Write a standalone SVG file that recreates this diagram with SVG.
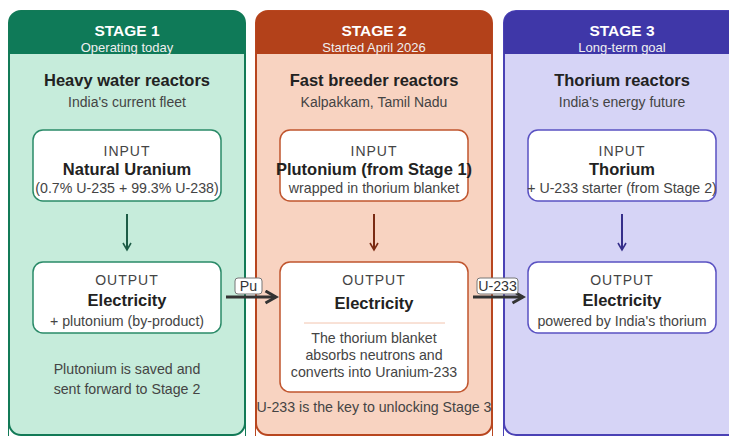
<svg xmlns="http://www.w3.org/2000/svg" width="729" height="436" viewBox="0 0 729 436">
<defs>
<marker id="chev" viewBox="0 0 10 10" refX="8" refY="5" markerWidth="10" markerHeight="10" markerUnits="userSpaceOnUse" orient="auto">
<path d="M1,1 L8,5 L1,9" fill="none" stroke="context-stroke" stroke-width="1.6"/>
</marker>
<marker id="chevB" viewBox="0 0 10 10" refX="8" refY="5" markerWidth="5" markerHeight="5" orient="auto">
<path d="M1,1 L8,5 L1,9" fill="none" stroke="#333" stroke-width="2"/>
</marker>
</defs>
<style>
text{font-family:"Liberation Sans",Arial,sans-serif;text-anchor:middle}
.hd{font-size:15.5px;font-weight:bold;fill:#fff}
.hs{font-size:13px;fill:#f0f0f0}
.tt{font-size:16.5px;font-weight:bold;fill:#222}
.st{font-size:14px;fill:#444}
.lb{font-size:14px;fill:#444;letter-spacing:1px}
.bt{font-size:16.5px;font-weight:bold;fill:#222}
.sm{font-size:14.2px;fill:#444}
.box{fill:#fff;stroke-width:1.5}
.pill{fill:#fff;stroke:#777;stroke-width:1}
</style>
<rect width="729" height="436" fill="#fff"/>

<g id="stage1">
<path d="M9,438 V23 a12,12 0 0 1 12,-12 H233 a12,12 0 0 1 12,12 V438" fill="#c6ecdb" stroke="#137a57" stroke-width="2"/>
<path d="M9,54 V23 a12,12 0 0 1 12,-12 H233 a12,12 0 0 1 12,12 V54 Z" fill="#0f7a58"/>
<path d="M9,423 V438 H245 V423 a12,12 0 0 1 -12,12 H21 a12,12 0 0 1 -12,-12Z" fill="#fff"/>
<path d="M9,420 V423 a12,12 0 0 0 12,12 H233 a12,12 0 0 0 12,-12 V420" fill="none" stroke="#137a57" stroke-width="2"/>
<text class="hd" x="127" y="36">STAGE 1</text>
<text class="hs" x="127" y="52">Operating today</text>
<text class="tt" x="127" y="86">Heavy water reactors</text>
<text class="st" x="127" y="107">India's current fleet</text>
<text class="sm" x="127" y="374">Plutonium is saved and</text>
<text class="sm" x="127" y="394">sent forward to Stage 2</text>
</g>
<g id="s1-input">
<rect class="box" x="33" y="130" width="188" height="71" rx="10" stroke="#2a8a68"/>
<text class="lb" x="127" y="156">INPUT</text>
<text class="bt" x="127" y="175">Natural Uranium</text>
<text class="sm" x="127" y="193">(0.7% U-235 + 99.3% U-238)</text>
</g>
<g id="s1-output">
<rect class="box" x="33" y="262" width="188" height="71" rx="10" stroke="#2a8a68"/>
<text class="lb" x="127" y="285">OUTPUT</text>
<text class="bt" x="127" y="306">Electricity</text>
<text class="sm" x="127" y="326">+ plutonium (by-product)</text>
</g>

<g id="stage2">
<path d="M256,438 V23 a12,12 0 0 1 12,-12 H480 a12,12 0 0 1 12,12 V438" fill="#f8d3c1" stroke="#b8461f" stroke-width="2"/>
<path d="M256,54 V23 a12,12 0 0 1 12,-12 H480 a12,12 0 0 1 12,12 V54 Z" fill="#b3411a"/>
<path d="M256,423 V438 H492 V423 a12,12 0 0 1 -12,12 H268 a12,12 0 0 1 -12,-12Z" fill="#fff"/>
<path d="M256,420 V423 a12,12 0 0 0 12,12 H480 a12,12 0 0 0 12,-12 V420" fill="none" stroke="#b8461f" stroke-width="2"/>
<text class="hd" x="374" y="36">STAGE 2</text>
<text class="hs" x="374" y="52">Started April 2026</text>
<text class="tt" x="374" y="86">Fast breeder reactors</text>
<text class="st" x="374" y="107">Kalpakkam, Tamil Nadu</text>
<text class="sm" x="374" y="412">U-233 is the key to unlocking Stage 3</text>
</g>
<g id="s2-input">
<rect class="box" x="280" y="130" width="188" height="71" rx="10" stroke="#c0552e"/>
<text class="lb" x="374" y="156">INPUT</text>
<text class="bt" x="374" y="175">Plutonium (from Stage 1)</text>
<text class="sm" x="374" y="193">wrapped in thorium blanket</text>
</g>
<g id="s2-output">
<rect class="box" x="280" y="262" width="188" height="130" rx="10" stroke="#c0552e"/>
<text class="lb" x="374" y="285">OUTPUT</text>
<text class="bt" x="374" y="309">Electricity</text>
<line x1="304" y1="323" x2="445" y2="323" stroke="#f2c4ae" stroke-width="1"/>
<text class="sm" x="374" y="343">The thorium blanket</text>
<text class="sm" x="374" y="360">absorbs neutrons and</text>
<text class="sm" x="374" y="377">converts into Uranium-233</text>
</g>

<g id="stage3">
<path d="M504,438 V23 a12,12 0 0 1 12,-12 H728 a12,12 0 0 1 12,12 V438" fill="#d6d4f6" stroke="#4a41b5" stroke-width="2"/>
<path d="M504,54 V23 a12,12 0 0 1 12,-12 H728 a12,12 0 0 1 12,12 V54 Z" fill="#3f37a8"/>
<path d="M504,423 V438 H740 V423 a12,12 0 0 1 -12,12 H516 a12,12 0 0 1 -12,-12Z" fill="#fff"/>
<path d="M504,420 V423 a12,12 0 0 0 12,12 H728 a12,12 0 0 0 12,-12 V420" fill="none" stroke="#4a41b5" stroke-width="2"/>
<text class="hd" x="622" y="36">STAGE 3</text>
<text class="hs" x="622" y="52">Long-term goal</text>
<text class="tt" x="622" y="86">Thorium reactors</text>
<text class="st" x="622" y="107">India's energy future</text>
</g>
<g id="s3-input">
<rect class="box" x="528" y="130" width="188" height="71" rx="10" stroke="#5a52c2"/>
<text class="lb" x="622" y="156">INPUT</text>
<text class="bt" x="622" y="175">Thorium</text>
<text class="sm" x="622" y="193">+ U-233 starter (from Stage 2)</text>
</g>
<g id="s3-output">
<rect class="box" x="528" y="262" width="188" height="71" rx="10" stroke="#5a52c2"/>
<text class="lb" x="622" y="285">OUTPUT</text>
<text class="bt" x="622" y="306">Electricity</text>
<text class="sm" x="622" y="326">powered by India's thorium</text>
</g>

<g id="connectors">
<line x1="127" y1="214" x2="127" y2="250" stroke="#1d5c46" stroke-width="2" marker-end="url(#chev)"/>
<line x1="374" y1="214" x2="374" y2="250" stroke="#7a2a12" stroke-width="2" marker-end="url(#chev)"/>
<line x1="622" y1="214" x2="622" y2="250" stroke="#352e8a" stroke-width="2" marker-end="url(#chev)"/>
<line x1="226" y1="297" x2="276" y2="297" stroke="#333" stroke-width="3" marker-end="url(#chevB)"/>
<line x1="473" y1="297" x2="523" y2="297" stroke="#333" stroke-width="3" marker-end="url(#chevB)"/>
<rect class="pill" x="235" y="278" width="27" height="16" rx="3"/>
<text class="sm" x="248.5" y="291" style="fill:#333">Pu</text>
<rect class="pill" x="477" y="278" width="41" height="16" rx="3"/>
<text class="sm" x="497.5" y="291" style="fill:#333">U-233</text>
</g>
</svg>
